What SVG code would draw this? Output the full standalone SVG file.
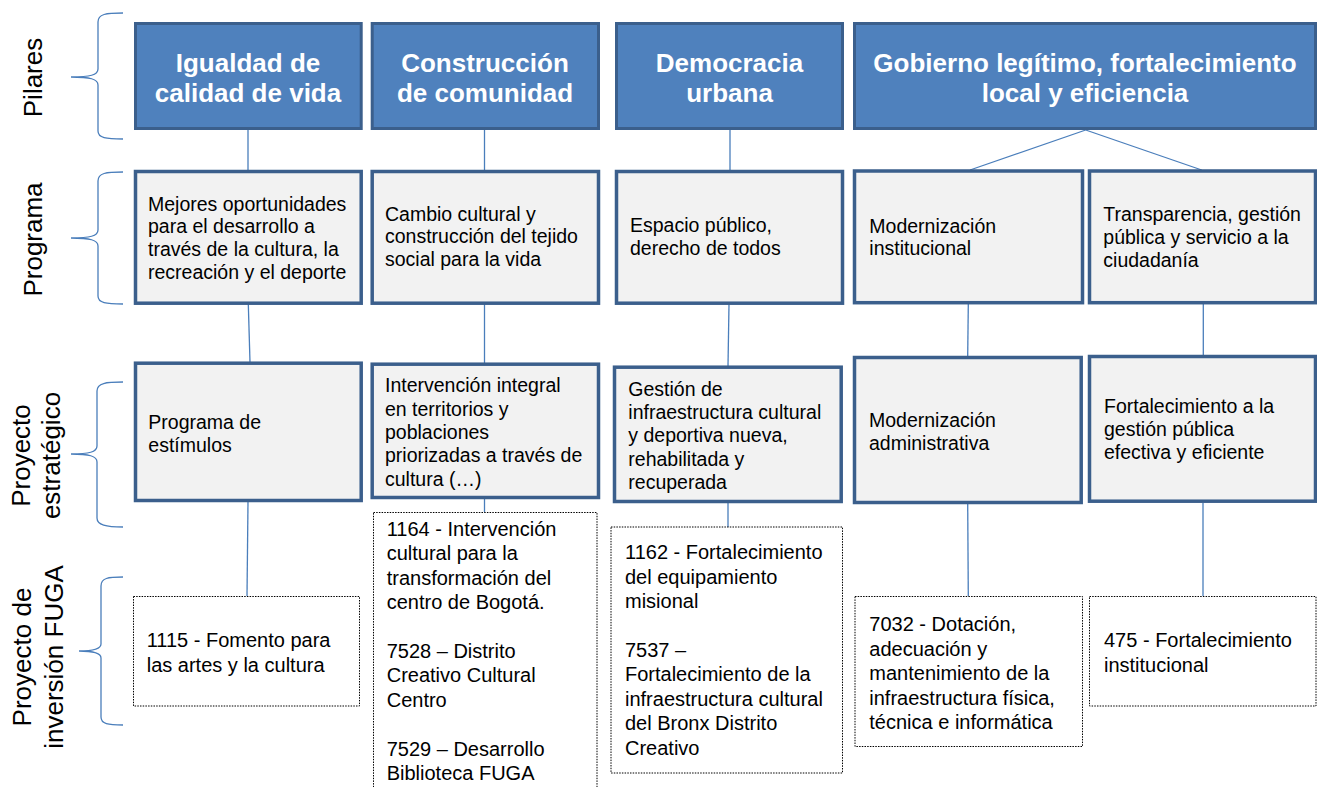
<svg xmlns="http://www.w3.org/2000/svg" width="1317" height="787" viewBox="0 0 1317 787">
<style>
text{font-family:"Liberation Sans",Arial,sans-serif;fill:#000}
.pil rect{fill:#4f81bd;stroke:#3b5f8c;stroke-width:3}
.pil text{fill:#fff;font-weight:bold;font-size:26px;text-anchor:middle}
.box rect{fill:#f2f2f2;stroke:#3b5f8c;stroke-width:3.5}
.box text{font-size:19.5px}
.dot rect{fill:#fff;stroke:#000;stroke-width:1;stroke-dasharray:1.5 1.2}
.dot text{font-size:20px}
.lbl text{font-size:26px;text-anchor:middle}
.brace{fill:none;stroke:#4a7ebb;stroke-width:1.3}
#connectors line{stroke:#4a7ebb;stroke-width:1.3}
</style>
<rect width="1317" height="787" fill="#fff"/>

<g id="labels" class="lbl">
<path class="brace" d="M123,13 C106,13 98,14 98,22 L98,69 C98,75 90,77 71,77 C90,77 98,79 98,85 L98,131 C98,138 106,139 123,139"/>
<text transform="translate(42,77.5) rotate(-90)">Pilares</text>
<path class="brace" d="M123,172 C106,172 98,173 98,181 L98,230 C98,236 90,238 71,238 C90,238 98,240 98,246 L98,296 C98,303 106,304 123,304"/>
<text transform="translate(42,239.5) rotate(-90)">Programa</text>
<path class="brace" d="M123,382 C106,382 97,383 97,391 L97,446 C97,452 89,454 71,454 C89,454 97,456 97,462 L97,518 C97,525 106,527 123,527"/>
<text transform="translate(30,455.5) rotate(-90)">Proyecto</text>
<text transform="translate(60,455.5) rotate(-90)">estratégico</text>
<path class="brace" d="M123,577 C108,577 101,578 101,586 L101,644 C101,649 94,651 79,651 C94,651 101,653 101,658 L101,717 C101,724 108,725 123,725"/>
<text transform="translate(31,657) rotate(-90)">Proyecto de</text>
<text transform="translate(63,657) rotate(-90)">inversión FUGA</text>
</g>

<g id="connectors">
<line x1="248" y1="130" x2="248" y2="170"/>
<line x1="248.3" y1="304" x2="250" y2="362"/>
<line x1="248" y1="502" x2="247" y2="596"/>
<line x1="484.5" y1="130" x2="484.5" y2="170"/>
<line x1="484.5" y1="304" x2="484.5" y2="363"/>
<line x1="484.5" y1="499" x2="484.5" y2="512"/>
<line x1="730" y1="130" x2="730" y2="170"/>
<line x1="729" y1="304" x2="728" y2="366"/>
<line x1="728" y1="503" x2="728" y2="527"/>
<line x1="1085.7" y1="130" x2="970" y2="170"/>
<line x1="1085.7" y1="130" x2="1201.7" y2="170"/>
<line x1="968.3" y1="304" x2="967.7" y2="356"/>
<line x1="1203.3" y1="304" x2="1203.3" y2="355"/>
<line x1="967.7" y1="504" x2="968.3" y2="596"/>
<line x1="1203" y1="503" x2="1203" y2="596"/>
</g>

<g id="pilar1" class="pil"><rect x="135.5" y="23.5" width="225.7" height="105"/>
<text x="248" y="71.5">Igualdad de</text><text x="248" y="101.5">calidad de vida</text></g>
<g id="pilar2" class="pil"><rect x="372.2" y="23.5" width="226.3" height="105"/>
<text x="485" y="71.5">Construcción</text><text x="485" y="101.5">de comunidad</text></g>
<g id="pilar3" class="pil"><rect x="616.5" y="23.5" width="226" height="105"/>
<text x="729.5" y="71.5">Democracia</text><text x="729.5" y="101.5">urbana</text></g>
<g id="pilar4" class="pil"><rect x="854.5" y="23.5" width="461" height="105"/>
<text x="1085" y="71.5">Gobierno legítimo, fortalecimiento</text><text x="1085" y="101.5">local y eficiencia</text></g>

<g id="prog1" class="box"><rect x="135.5" y="171.5" width="225.7" height="131.7"/>
<text x="148" y="210.5">Mejores oportunidades</text><text x="148" y="233.2">para el desarrollo a</text><text x="148" y="255.9">través de la cultura, la</text><text x="148" y="278.6">recreación y el deporte</text></g>
<g id="prog2" class="box"><rect x="372.2" y="171.5" width="226.3" height="131.7"/>
<text x="385" y="220.5">Cambio cultural y</text><text x="385" y="243.3">construcción del tejido</text><text x="385" y="266">social para la vida</text></g>
<g id="prog3" class="box"><rect x="616.5" y="171.5" width="226" height="131.7"/>
<text x="630" y="232.3">Espacio público,</text><text x="630" y="254.7">derecho de todos</text></g>
<g id="prog4" class="box"><rect x="854.5" y="171" width="228" height="131.7"/>
<text x="869.3" y="233">Modernización</text><text x="869.3" y="254.7">institucional</text></g>
<g id="prog5" class="box"><rect x="1089.5" y="171" width="226" height="131.7"/>
<text x="1103.3" y="221.3">Transparencia, gestión</text><text x="1103.3" y="244">pública y servicio a la</text><text x="1103.3" y="266.7">ciudadanía</text></g>

<g id="est1" class="box"><rect x="135.5" y="363.2" width="225.7" height="137.3"/>
<text x="148.3" y="429">Programa de</text><text x="148.3" y="451.7">estímulos</text></g>
<g id="est2" class="box"><rect x="372.2" y="364.2" width="226.3" height="133.3"/>
<text x="385" y="392.3">Intervención integral</text><text x="385" y="415.6">en territorios y</text><text x="385" y="438.9">poblaciones</text><text x="385" y="462.2">priorizadas a través de</text><text x="385" y="485.5">cultura (…)</text></g>
<g id="est3" class="box"><rect x="614.5" y="367.2" width="226.7" height="134.3"/>
<text x="628.3" y="395.7">Gestión de</text><text x="628.3" y="419">infraestructura cultural</text><text x="628.3" y="442.3">y deportiva nueva,</text><text x="628.3" y="465.6">rehabilitada y</text><text x="628.3" y="489">recuperada</text></g>
<g id="est4" class="box"><rect x="854.5" y="357.5" width="226.7" height="145"/>
<text x="869" y="427.3">Modernización</text><text x="869" y="450">administrativa</text></g>
<g id="est5" class="box"><rect x="1089.5" y="356.5" width="226" height="144.7"/>
<text x="1104" y="413.3">Fortalecimiento a la</text><text x="1104" y="436">gestión pública</text><text x="1104" y="459">efectiva y eficiente</text></g>

<g id="inv1" class="dot"><rect x="133.5" y="596.5" width="226" height="109.5"/>
<text x="146.7" y="647.3">1115 - Fomento para</text><text x="146.7" y="672">las artes y la cultura</text></g>
<g id="inv2" class="dot"><rect x="373.5" y="512.5" width="223.5" height="300"/>
<text x="386.7" y="536">1164 - Intervención</text><text x="386.7" y="560.4">cultural para la</text><text x="386.7" y="584.8">transformación del</text><text x="386.7" y="609.2">centro de Bogotá.</text>
<text x="386.7" y="658">7528 – Distrito</text><text x="386.7" y="682.4">Creativo Cultural</text><text x="386.7" y="706.8">Centro</text>
<text x="386.7" y="755.6">7529 – Desarrollo</text><text x="386.7" y="780">Biblioteca FUGA</text></g>
<g id="inv3" class="dot"><rect x="611" y="527" width="231.5" height="246"/>
<text x="625" y="559.3">1162 - Fortalecimiento</text><text x="625" y="583.7">del equipamiento</text><text x="625" y="608.1">misional</text>
<text x="625" y="656.9">7537 –</text><text x="625" y="681.3">Fortalecimiento de la</text><text x="625" y="705.7">infraestructura cultural</text><text x="625" y="730.1">del Bronx Distrito</text><text x="625" y="754.5">Creativo</text></g>
<g id="inv4" class="dot"><rect x="855" y="596.5" width="227.5" height="150"/>
<text x="869.3" y="631">7032 - Dotación,</text><text x="869.3" y="655.5">adecuación y</text><text x="869.3" y="680">mantenimiento de la</text><text x="869.3" y="704.5">infraestructura física,</text><text x="869.3" y="729">técnica e informática</text></g>
<g id="inv5" class="dot"><rect x="1089.5" y="596.5" width="226.5" height="109.5"/>
<text x="1104" y="647">475 - Fortalecimiento</text><text x="1104" y="671.5">institucional</text></g>
</svg>
